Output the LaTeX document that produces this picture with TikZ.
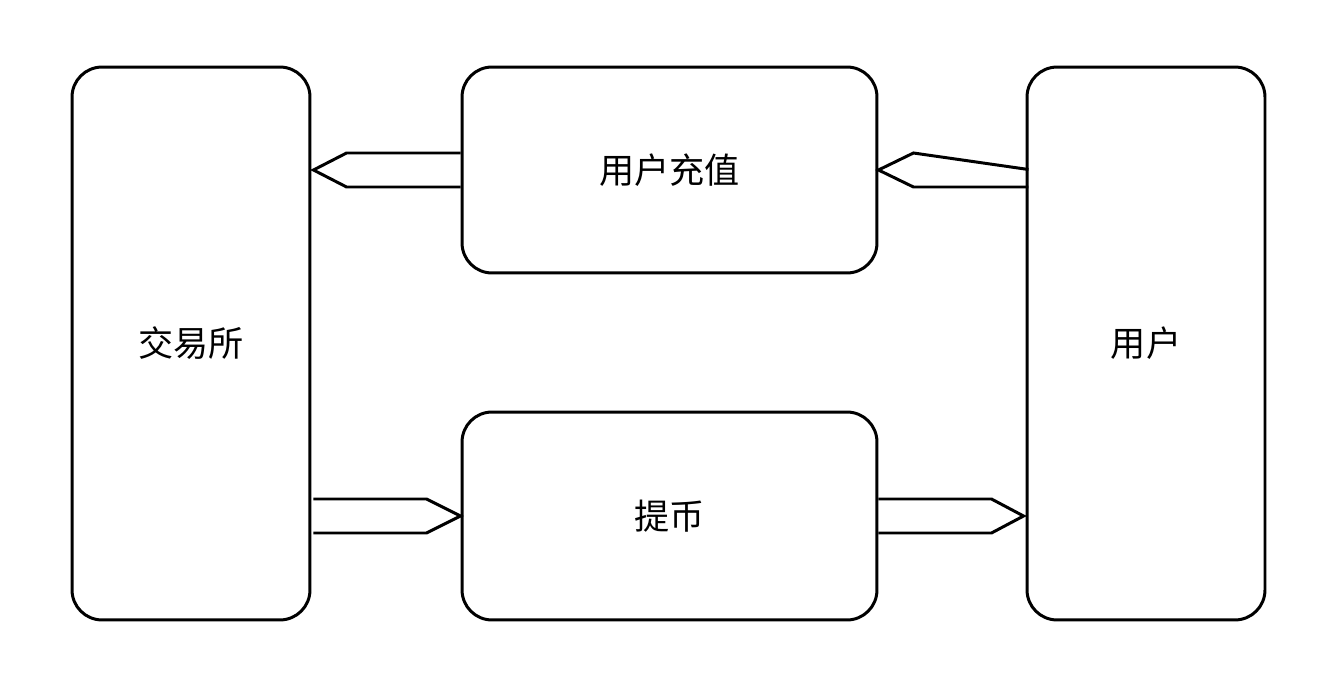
\documentclass[tikz,border=0pt]{standalone}
\usepackage{fontspec}
\newfontfamily\cjk{Noto Sans CJK SC}
\usetikzlibrary{calc}

\begin{document}
\begin{tikzpicture}[x=0.02cm, y=0.02cm, line width=1.7pt,
	box/.style={draw, rounded corners=0.6cm, inner sep=0pt, font=\cjk\fontsize{20}{24}\selectfont}]
	\useasboundingbox (0,0) rectangle (1344,694);

	% boxes
	\node[box, minimum width=4.76cm, minimum height=11.06cm] (jys) at (191,350.5) {交易所};
	\node[box, minimum width=8.3cm, minimum height=4.12cm] (cz) at (669.5,524) {用户充值};
	\node[box, minimum width=8.3cm, minimum height=4.16cm] (tb) at (669.5,178) {提币};
	\node[box, minimum width=4.76cm, minimum height=11.06cm] (yh) at (1146,350.5) {用户};

	% arrows
	\draw ($(cz.west)+(0,17)$) -- ($(cz.west)+(-114,17)$) -- ($(cz.west -| jys.east)+(2,0)$)
		-- ($(cz.west)+(-114,-17)$) -- ($(cz.west)+(0,-17)$);
	\draw ($(cz.east |- yh.west)+(150,174)$) -- ($(cz.east)+(35,17)$) -- (cz.east)
		-- ($(cz.east)+(35,-17)$) -- ($(cz.east)+(150,-17)$);
	\draw ($(tb.west -| jys.east)+(2,17)$) -- ($(tb.west)+(-34,17)$) -- (tb.west)
		-- ($(tb.west)+(-34,-17)$) -- ($(tb.west -| jys.east)+(2,-17)$);
	\draw ($(tb.east)+(0,17)$) -- ($(tb.east)+(113,17)$) -- ($(tb.west -| yh.west)+(-2,0)$)
		-- ($(tb.east)+(113,-17)$) -- ($(tb.east)+(0,-17)$);
\end{tikzpicture}
\end{document}
